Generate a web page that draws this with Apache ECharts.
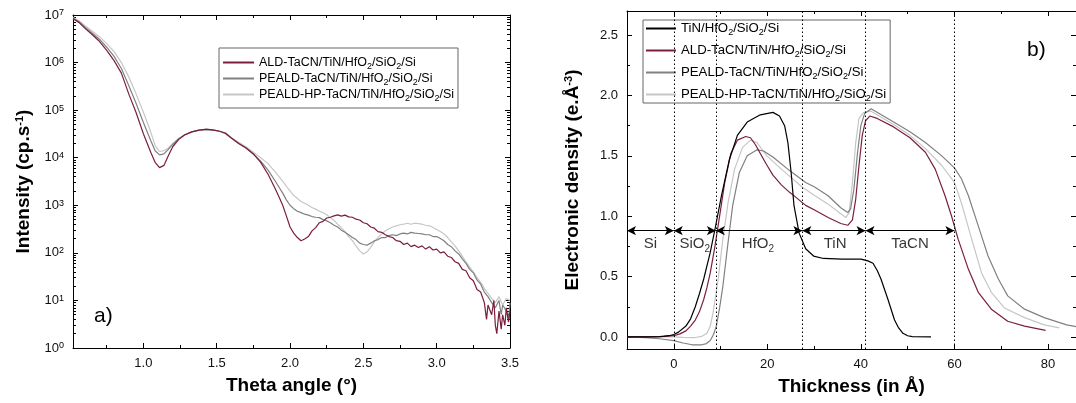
<!DOCTYPE html>
<html><head><meta charset="utf-8">
<script src="https://cdn.jsdelivr.net/npm/echarts@6/dist/echarts.min.js"></script>
<style>html,body{margin:0;padding:0;background:#fff}#c{width:1076px;height:403px}</style>
</head><body><div id="c"></div>
<script>
// ---------- Panel a) : XRR intensity ----------
const thetaMajor = [1.0, 1.5, 2.0, 2.5, 3.0, 3.5];
const thetaMinor = [0.75, 1.25, 1.75, 2.25, 2.75, 3.25];
const intensityMajor = [1, 10, 100, 1e3, 1e4, 1e5, 1e6, 1e7];

const seriesA_names = ['ALD-TaCN/TiN/HfO2/SiO2/Si', 'PEALD-TaCN/TiN/HfO2/SiO2/Si', 'PEALD-HP-TaCN/TiN/HfO2/SiO2/Si'];

const aldXRR = [[0.52,8.3e6],[0.56,7.0e6],[0.6,5.3e6],[0.65,3.9e6],[0.7,2.8e6],[0.75,1.8e6],[0.8,1.1e6],[0.85,6.0e5],[0.9,2.2e5],[0.95,8.9e4],[1.0,3.2e4],[1.05,1.3e4],[1.08,8.0e3],[1.11,6.2e3],[1.14,6.9e3],[1.17,1.1e4],[1.2,1.7e4],[1.24,2.4e4],[1.28,3.0e4],[1.33,3.5e4],[1.38,3.8e4],[1.43,4.0e4],[1.48,3.8e4],[1.52,3.6e4],[1.56,3.3e4],[1.6,2.6e4],[1.65,2.0e4],[1.7,1.6e4],[1.75,1.2e4],[1.8,8.0e3],[1.85,4.5e3],[1.9,2.2e3],[1.925,1.5e3],[1.95,1.0e3],[1.975,6.0e2],[2.0,3.5e2],[2.025,2.6e2],[2.05,2.1e2],[2.075,1.8e2],[2.1,1.95e2],[2.125,2.2e2],[2.15,2.9e2],[2.175,3.4e2],[2.2,4.3e2],[2.225,4.6e2],[2.25,5.4e2],[2.275,5.6e2],[2.3,6.0e2],[2.325,6.3e2],[2.35,5.9e2],[2.375,6.2e2],[2.4,5.7e2],[2.425,5.6e2],[2.45,5.1e2],[2.475,4.9e2],[2.5,4.3e2],[2.525,4.1e2],[2.55,3.5e2],[2.575,3.3e2],[2.6,2.8e2],[2.625,2.7e2],[2.65,2.4e2],[2.675,2.2e2],[2.7,2.1e2],[2.725,1.8e2],[2.75,1.75e2],[2.775,1.5e2],[2.8,1.6e2],[2.825,1.35e2],[2.85,1.45e2],[2.875,1.3e2],[2.9,1.4e2],[2.925,1.2e2],[2.95,1.35e2],[2.975,1.15e2],[3.0,1.2e2],[3.025,1.0e2],[3.05,1.05e2],[3.075,8.5e1],[3.1,8.0e1],[3.125,6.5e1],[3.15,6.0e1],[3.175,4.5e1],[3.2,4.2e1],[3.225,3.0e1],[3.25,2.6e1],[3.275,1.7e1],[3.3,1.5e1],[3.325,9],[3.34,4],[3.35,8],[3.375,5],[3.39,10],[3.4,3],[3.41,2],[3.425,6],[3.44,2.5],[3.45,5],[3.465,3],[3.475,7],[3.49,3.5],[3.5,6]];

const pealdXRR = [[0.52,8.5e6],[0.56,7.3e6],[0.6,5.6e6],[0.65,4.2e6],[0.7,3.1e6],[0.75,2.1e6],[0.8,1.35e6],[0.85,7.5e5],[0.9,3.3e5],[0.95,1.4e5],[1.0,5.5e4],[1.05,2.3e4],[1.08,1.4e4],[1.11,1.15e4],[1.14,1.2e4],[1.17,1.5e4],[1.2,1.9e4],[1.24,2.5e4],[1.28,3.0e4],[1.33,3.5e4],[1.38,3.8e4],[1.43,3.9e4],[1.48,3.8e4],[1.52,3.6e4],[1.56,3.2e4],[1.6,2.6e4],[1.65,2.0e4],[1.7,1.6e4],[1.75,1.2e4],[1.8,8.5e3],[1.85,5.5e3],[1.9,3.2e3],[1.925,2.4e3],[1.95,1.8e3],[1.975,1.3e3],[2.0,1.0e3],[2.025,8.5e2],[2.05,7.5e2],[2.075,7.0e2],[2.1,6.5e2],[2.125,6.2e2],[2.15,5.8e2],[2.175,5.6e2],[2.2,5.5e2],[2.225,5.0e2],[2.25,4.7e2],[2.275,4.3e2],[2.3,3.8e2],[2.325,3.5e2],[2.35,3.0e2],[2.375,2.7e2],[2.4,2.4e2],[2.425,2.1e2],[2.45,1.9e2],[2.475,1.6e2],[2.5,1.5e2],[2.525,1.45e2],[2.55,1.6e2],[2.575,1.8e2],[2.6,1.9e2],[2.625,2.1e2],[2.65,2.1e2],[2.675,2.3e2],[2.7,2.4e2],[2.725,2.3e2],[2.75,2.5e2],[2.775,2.6e2],[2.8,2.5e2],[2.825,2.7e2],[2.85,2.6e2],[2.875,2.55e2],[2.9,2.5e2],[2.925,2.4e2],[2.95,2.4e2],[2.975,2.2e2],[3.0,2.2e2],[3.025,2.0e2],[3.05,1.8e2],[3.075,1.5e2],[3.1,1.35e2],[3.125,1.1e2],[3.15,9.5e1],[3.175,7.5e1],[3.2,6.0e1],[3.225,4.5e1],[3.25,3.8e1],[3.275,2.7e1],[3.3,2.2e1],[3.325,1.5e1],[3.35,1.2e1],[3.375,9],[3.4,7],[3.425,10],[3.44,5],[3.45,8],[3.475,6],[3.49,4],[3.5,9]];

const pealdHpXRR = [[0.52,8.8e6],[0.56,7.6e6],[0.6,6.0e6],[0.65,4.6e6],[0.7,3.5e6],[0.75,2.5e6],[0.8,1.7e6],[0.85,1.0e6],[0.9,5.0e5],[0.95,2.2e5],[1.0,9.0e4],[1.05,3.5e4],[1.08,1.8e4],[1.11,1.35e4],[1.14,1.4e4],[1.17,1.6e4],[1.2,2.0e4],[1.24,2.5e4],[1.28,3.0e4],[1.33,3.5e4],[1.38,3.8e4],[1.43,3.9e4],[1.48,3.8e4],[1.52,3.6e4],[1.56,3.2e4],[1.6,2.6e4],[1.65,2.1e4],[1.7,1.7e4],[1.75,1.3e4],[1.8,1.0e4],[1.85,7.5e3],[1.9,5.0e3],[1.925,4.0e3],[1.95,3.2e3],[1.975,2.5e3],[2.0,2.0e3],[2.025,1.6e3],[2.05,1.4e3],[2.075,1.2e3],[2.1,1.1e3],[2.125,1.0e3],[2.15,9.0e2],[2.175,8.3e2],[2.2,7.5e2],[2.225,7.0e2],[2.25,6.3e2],[2.275,5.5e2],[2.3,4.8e2],[2.325,4.0e2],[2.35,3.4e2],[2.375,2.8e2],[2.4,2.2e2],[2.425,1.8e2],[2.45,1.4e2],[2.475,1.1e2],[2.5,9.5e1],[2.525,1.05e2],[2.55,1.3e2],[2.575,1.7e2],[2.6,2.1e2],[2.625,2.5e2],[2.65,2.9e2],[2.675,3.2e2],[2.7,3.5e2],[2.725,3.7e2],[2.75,3.9e2],[2.775,4.0e2],[2.8,4.2e2],[2.825,4.0e2],[2.85,4.2e2],[2.875,4.1e2],[2.9,4.0e2],[2.925,3.8e2],[2.95,3.7e2],[2.975,3.4e2],[3.0,3.1e2],[3.025,2.8e2],[3.05,2.5e2],[3.075,2.1e2],[3.1,1.7e2],[3.125,1.4e2],[3.15,1.1e2],[3.175,8.5e1],[3.2,6.5e1],[3.225,5.0e1],[3.25,4.0e1],[3.275,3.0e1],[3.3,2.4e1],[3.325,1.8e1],[3.35,1.4e1],[3.375,1.1e1],[3.4,9],[3.425,12],[3.45,8],[3.475,11],[3.5,10]];

// ---------- Panel b) : electronic density profiles ----------
const thickMajor = [0, 20, 40, 60, 80];
const thickMinor = [-10, 10, 30, 50, 70];
const densMajor = [0, 0.5, 1.0, 1.5, 2.0, 2.5];
const densMinor = [0.25, 0.75, 1.25, 1.75, 2.25];

const seriesB_names = ['TiN/HfO2/SiO2/Si', 'ALD-TaCN/TiN/HfO2/SiO2/Si', 'PEALD-TaCN/TiN/HfO2/SiO2/Si', 'PEALD-HP-TaCN/TiN/HfO2/SiO2/Si'];

const tinDens = [[-10,0],[-6,0],[-3,0.003],[-1,0.01],[0,0.02],[1,0.04],[2.6,0.09],[3.6,0.15],[4.6,0.25],[5.5,0.36],[6.4,0.48],[7.8,0.70],[8.8,0.89],[10.2,1.17],[11.9,1.47],[13.6,1.67],[15.7,1.78],[18.5,1.84],[21.2,1.86],[22.6,1.83],[23.7,1.75],[24.4,1.61],[25.1,1.36],[25.7,1.09],[26.8,0.86],[28.2,0.73],[29.9,0.67],[32,0.65],[36,0.645],[40,0.645],[41.5,0.63],[42.6,0.61],[43.5,0.55],[44.3,0.48],[45.8,0.31],[47.2,0.14],[48,0.08],[49,0.03],[50,0.01],[51,0.003],[55,0]];

const aldDens = [[-10,0],[-5,0],[-2,0.005],[0,0.01],[1.3,0.025],[2.6,0.05],[3.6,0.09],[4.6,0.14],[5.5,0.21],[6.4,0.31],[7.1,0.41],[7.8,0.53],[8.8,0.75],[9.8,1.0],[10.9,1.28],[12.2,1.52],[13.6,1.63],[15.4,1.66],[16.4,1.65],[17.5,1.59],[18.5,1.52],[19.8,1.43],[21.2,1.34],[23,1.26],[24.7,1.20],[26,1.16],[28.2,1.09],[30.2,1.05],[33,0.99],[35.7,0.94],[37.2,0.925],[38.2,0.97],[38.9,1.14],[39.6,1.42],[40.3,1.67],[41,1.79],[41.9,1.83],[43.5,1.81],[47,1.74],[50.5,1.65],[53.8,1.53],[55.9,1.39],[58,1.17],[59.4,1.0],[60.8,0.81],[63,0.56],[65.1,0.37],[67.9,0.23],[71.4,0.13],[75,0.09],[79.5,0.055]];

const pealdDens = [[-10,0],[-6,-0.005],[-3,-0.015],[0,-0.03],[2,-0.05],[3.9,-0.065],[6,-0.065],[7,-0.055],[7.8,-0.03],[8.5,0.02],[9.1,0.09],[9.8,0.24],[10.5,0.42],[11.6,0.78],[12.6,1.09],[14,1.36],[15.7,1.50],[17.8,1.55],[19.2,1.54],[21.2,1.49],[24.7,1.38],[28.2,1.28],[30.2,1.24],[33,1.17],[35.7,1.07],[37.2,1.03],[37.8,1.06],[38.5,1.22],[39.3,1.53],[40,1.75],[40.8,1.85],[42.2,1.89],[47,1.78],[50.5,1.70],[53.8,1.61],[57.3,1.50],[60,1.40],[61.5,1.31],[63,1.17],[65.1,0.92],[67.2,0.67],[69.4,0.48],[71.4,0.34],[75,0.23],[79.2,0.16],[84,0.10],[86,0.085]];

const pealdHpDens = [[-10,0],[-4,0],[0,0],[2,-0.003],[4.6,-0.005],[6,0.005],[7.1,0.03],[7.8,0.09],[8.4,0.2],[9.5,0.48],[10.5,0.81],[11.6,1.11],[13,1.39],[14.7,1.57],[16.4,1.63],[17.8,1.61],[19.9,1.50],[23.3,1.38],[27.5,1.24],[30.2,1.17],[33,1.10],[35.7,1.02],[36.8,0.99],[37.5,1.03],[38.2,1.28],[38.9,1.61],[39.6,1.81],[40.6,1.86],[42.2,1.87],[47,1.76],[50.5,1.67],[53.8,1.56],[57.3,1.42],[60,1.28],[61.5,1.11],[63.7,0.81],[65.8,0.53],[67.9,0.37],[70.7,0.24],[75,0.16],[79.2,0.10],[82.4,0.075]];

const layerBounds = [-10, 0, 9, 27.5, 41, 60];
const layerNames = ['Si', 'SiO2', 'HfO2', 'TiN', 'TaCN'];
const layerLabelX = [-5, 4.5, 18, 34.5, 50.5];
const arrowLevel = 0.88;
const layerLabelLevel = 0.77;
const dottedLines = [0, 9, 27.5, 41, 60];

// ---------- helpers ----------
const FONT = '"Liberation Sans", Arial, sans-serif';
const richSub = {
  sub: { fontSize: 9, lineHeight: 9, verticalAlign: 'bottom', fontFamily: FONT, color: '#000' },
  sup: { fontSize: 9, lineHeight: 9, verticalAlign: 'top', fontFamily: FONT, color: '#000' }
};
const chem = s => s.replace(/O2/g, 'O{sub|2}');

function axisSet(kind, gridIndex, type, min, max, majors, minors, labelFmt, name, nameGap) {
  const isX = kind === 'x';
  const pos = isX ? ['bottom', 'top'] : ['left', 'right'];
  const base = { type, gridIndex, min, max, splitLine: { show: false }, silent: true };
  if (type === 'log') base.logBase = 10;
  const res = [];
  const main = Object.assign({}, base, {
    position: pos[0],
    axisLine: { show: true, onZero: false, lineStyle: { color: '#000', width: 1 } },
    axisTick: { show: true, inside: true, length: 5, customValues: majors, lineStyle: { color: '#000' } },
    axisLabel: { show: true, customValues: majors, formatter: labelFmt, fontSize: 13, color: '#111', fontFamily: FONT, margin: 9, rich: Object.assign({ n: {} }, richSub) },
    name: name, nameLocation: 'middle', nameGap: nameGap,
    nameTextStyle: { fontSize: 19, fontWeight: 'bold', color: '#000', fontFamily: FONT, rich: { sup: { fontSize: 11, lineHeight: 11, verticalAlign: 'top', fontWeight: 'bold', fontFamily: FONT } } }
  });
  if (!isX) main.nameRotate = 90;
  res.push(main);
  res.push(Object.assign({}, base, {
    position: pos[0], axisLine: { show: false, onZero: false },
    axisTick: { show: true, inside: true, length: 3, customValues: minors, lineStyle: { color: '#000' } },
    axisLabel: { show: false }
  }));
  res.push(Object.assign({}, base, {
    position: pos[1], axisLine: { show: true, onZero: false, lineStyle: { color: '#000', width: 1 } },
    axisTick: { show: true, inside: true, length: 5, customValues: majors, lineStyle: { color: '#000' } },
    axisLabel: { show: false }
  }));
  res.push(Object.assign({}, base, {
    position: pos[1], axisLine: { show: false, onZero: false },
    axisTick: { show: true, inside: true, length: 3, customValues: minors, lineStyle: { color: '#000' } },
    axisLabel: { show: false }
  }));
  return res;
}

const logMinor = [];
for (let d = 1; d < 1e7; d *= 10) for (let m = 2; m <= 9; m++) logMinor.push(m * d);

const xAxes = [].concat(
  axisSet('x', 0, 'value', 0.52, 3.5, thetaMajor, thetaMinor, v => v.toFixed(1), 'Theta angle (°)', 28),
  axisSet('x', 1, 'value', -10, 86, thickMajor, thickMinor, v => String(v), 'Thickness (in Å)', 28)
);
const yAxes = [].concat(
  axisSet('y', 0, 'log', 1, 1e7, intensityMajor, logMinor, v => '10{sup|' + Math.round(Math.log10(v)) + '}', 'Intensity (cp.s{sup|-1})', 40),
  axisSet('y', 1, 'value', -0.1, 2.7, densMajor, densMinor, v => v.toFixed(1), 'Electronic density (e.Å{sup|-3})', 45)
);

const colA = ['#7b1e3e', '#808080', '#c6c6c6'];
const colB = ['#000000', '#7b1e3e', '#808080', '#c6c6c6'];

function lineSeries(name, data, color, xi, yi, z) {
  return { type: 'line', name, data, xAxisIndex: xi, yAxisIndex: yi, symbol: 'none', showSymbol: false,
    smooth: false, z: z, lineStyle: { color, width: 1.2 }, itemStyle: { color }, animation: false, silent: true };
}

const series = [
  lineSeries(seriesA_names[2], pealdHpXRR, colA[2], 0, 0, 2),
  lineSeries(seriesA_names[1], pealdXRR, colA[1], 0, 0, 3),
  lineSeries(seriesA_names[0], aldXRR, colA[0], 0, 0, 4),
];
const bData = [tinDens, aldDens, pealdDens, pealdHpDens];
const bSeries = seriesB_names.map((n, i) => lineSeries(n, bData[i], colB[i], 4, 4, 5 - i));
bSeries[0].markLine = {
  silent: true, symbol: 'none', animation: false, label: { show: false },
  lineStyle: { type: [1.5, 2.5], color: '#000', width: 1 },
  data: dottedLines.map(v => ({ xAxis: v }))
};
const arrowPairs = [];
for (let i = 0; i < layerBounds.length - 1; i++) {
  arrowPairs.push([{ coord: [layerBounds[i], arrowLevel] }, { coord: [layerBounds[i + 1], arrowLevel] }]);
}
bSeries[1].markLine = {
  silent: true, symbol: ['arrow', 'arrow'], symbolSize: [7, 9], animation: false, label: { show: false },
  lineStyle: { type: 'solid', color: '#000', width: 1.2 }, itemStyle: { color: '#000' },
  data: arrowPairs
};
series.push(...bSeries);
series.push({
  type: 'scatter', xAxisIndex: 4, yAxisIndex: 4, symbolSize: 0, silent: true, animation: false,
  data: layerNames.map((n, i) => [layerLabelX[i], layerLabelLevel, n]),
  label: { show: true, position: 'inside', formatter: p => chem(p.data[2]), fontSize: 15, color: '#000', fontFamily: FONT,
    lineHeight: 20, rich: { sub: { fontSize: 10, lineHeight: 10, verticalAlign: 'bottom', fontFamily: FONT, color: '#000' } } }
});

const legendCommon = { orient: 'vertical', itemHeight: 10, selectedMode: false, borderColor: '#666', borderWidth: 1,
  itemStyle: { opacity: 0 }, formatter: chem };
const option = {
  animation: false,
  backgroundColor: '#fff',
  grid: [
    { left: 73, top: 15, width: 437, height: 333 },
    { left: 627, top: 11, width: 451, height: 338 }
  ],
  xAxis: xAxes,
  yAxis: yAxes,
  legend: [
    Object.assign({}, legendCommon, { data: seriesA_names, left: 219, top: 48, itemWidth: 31, itemGap: -1,
      padding: [6, 4, 5, 3], textStyle: { fontSize: 12.5, fontFamily: FONT, color: '#000', lineHeight: 17, rich: richSub } }),
    Object.assign({}, legendCommon, { data: seriesB_names, left: 643, top: 20, itemWidth: 30, itemGap: 5,
      padding: [0, 4, 0, 2], textStyle: { fontSize: 13.2, fontFamily: FONT, color: '#000', lineHeight: 17, rich: richSub } })
  ],
  graphic: [
    { type: 'text', left: 94, top: 306, style: { text: 'a)', font: '21px ' + FONT, fill: '#000' } },
    { type: 'text', left: 1027, top: 40, style: { text: 'b)', font: '21px ' + FONT, fill: '#000' } }
  ],
  series
};
const chart = echarts.init(document.getElementById('c'), null, { renderer: 'canvas' });
chart.setOption(option);
</script></body></html>
